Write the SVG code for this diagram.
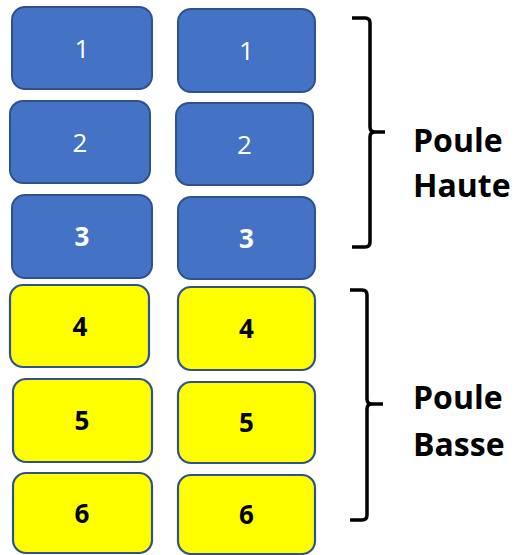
<svg xmlns="http://www.w3.org/2000/svg" width="517" height="555" viewBox="0 0 517 555">
<style>
.b{fill:#4472C4;stroke:#2F528F;stroke-width:2}
.y{fill:#FFFF00;stroke:#2F528F;stroke-width:2.2}
.n{font-family:"Open Sans","Noto Sans",sans-serif;font-size:26px;text-anchor:middle}
.w{fill:#FFFFFF}
.k{fill:#000000}
.bold{font-weight:bold}
.lbl{font-family:"Open Sans","Noto Sans",sans-serif;font-size:32px;font-weight:bold;fill:#000}
.br{fill:none;stroke:#000;stroke-width:3.5}
</style>
<rect width="517" height="555" fill="#fff"/>
<g id="L1"><rect class="b" x="12" y="7" width="140" height="82" rx="13"/><text class="n w" x="82" y="57.5">1</text></g>
<g id="L2"><rect class="b" x="10" y="101" width="140" height="82" rx="13"/><text class="n w" x="80" y="151.5">2</text></g>
<g id="L3"><rect class="b" x="12" y="195" width="140" height="83" rx="13"/><text class="n w bold" x="82" y="246">3</text></g>
<g id="L4"><rect class="y" x="10" y="285" width="139" height="82" rx="13"/><text class="n k bold" x="80" y="335.5">4</text></g>
<g id="L5"><rect class="y" x="13" y="379" width="139" height="83" rx="13"/><text class="n k bold" x="82" y="430">5</text></g>
<g id="L6"><rect class="y" x="13" y="473" width="139" height="80" rx="13"/><text class="n k bold" x="82" y="522.5">6</text></g>
<g id="R1"><rect class="b" x="178" y="9" width="137" height="83" rx="13"/><text class="n w" x="246.5" y="60">1</text></g>
<g id="R2"><rect class="b" x="176" y="103" width="137" height="82" rx="13"/><text class="n w" x="244.5" y="153.5">2</text></g>
<g id="R3"><rect class="b" x="178" y="197" width="137" height="82" rx="13"/><text class="n w bold" x="246.5" y="247.5">3</text></g>
<g id="R4"><rect class="y" x="178" y="287" width="137" height="83" rx="13"/><text class="n k bold" x="246.5" y="338">4</text></g>
<g id="R5"><rect class="y" x="178" y="382" width="137" height="81" rx="13"/><text class="n k bold" x="246.5" y="432">5</text></g>
<g id="R6"><rect class="y" x="178" y="475" width="137" height="79" rx="13"/><text class="n k bold" x="246.5" y="524">6</text></g>
<g id="connectors">
<path class="br" d="M352,18 H365 Q370,18 370,23 V127 Q370,132 375,132 H385 M375,132 Q370,132 370,137 V242 Q370,247 365,247 H352"/>
<path class="br" d="M350,290 H362 Q367,290 367,295 V399 Q367,404 372,404 H383 M372,404 Q367,404 367,409 V515 Q367,520 362,520 H350"/>
</g>
<g id="labelHaute"><text class="lbl" x="413" y="152">Poule</text><text class="lbl" x="413" y="197">Haute</text></g>
<g id="labelBasse"><text class="lbl" x="413" y="409">Poule</text><text class="lbl" x="413" y="456">Basse</text></g>
</svg>
